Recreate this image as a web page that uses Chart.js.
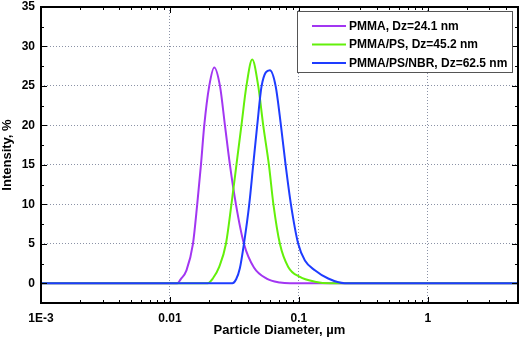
<!DOCTYPE html>
<html>
<head>
<meta charset="utf-8">
<script src="https://cdn.jsdelivr.net/npm/chart.js@4/dist/chart.umd.min.js"></script>
<style>
  html, body { margin: 0; padding: 0; background: #fff; }
  #wrap { width: 521px; height: 338px; position: relative; }
</style>
</head>
<body>
<div id="wrap"><canvas id="c"></canvas></div>
<script>
// Curvas de distribuição de tamanho (leitura aproximada do gráfico original)
const seriesLabels = ["PMMA, Dz=24.1 nm", "PMMA/PS, Dz=45.2 nm", "PMMA/PS/NBR, Dz=62.5 nm"]
const seriesColors = ["#a236f2", "#63f00a", "#1e3cff"]

const pmmaX = [0.001, 0.0114, 0.0121, 0.0134, 0.01508, 0.01627, 0.01739, 0.01845, 0.02017, 0.02205, 0.02442, 0.0267, 0.02918, 0.03248, 0.03747, 0.04479, 0.05618, 0.07122, 0.08516, 5]
const pmmaY = [0, 0, 0.5, 1.6, 5, 10, 15, 20, 25, 27.35, 25, 20, 15, 10, 5, 2.0, 0.6, 0.1, 0, 0]

const psX = [0.001, 0.0196, 0.0215, 0.0241, 0.02718, 0.02997, 0.03277, 0.03583, 0.03917, 0.04345, 0.04836, 0.05288, 0.05853, 0.06343, 0.07121, 0.08263, 0.1018, 0.133, 0.1739, 5]
const psY = [0, 0, 0.6, 2.07, 5, 10, 15, 20, 25, 28.35, 25, 20, 15, 10, 5, 2.07, 0.8, 0.2, 0, 0]

const nbrX = [0.001, 0.0305, 0.0326, 0.0348, 0.03747, 0.04119, 0.04422, 0.0475, 0.0514, 0.05961, 0.06598, 0.07254, 0.07886, 0.0867, 0.09876, 0.1113, 0.133, 0.1687, 0.2273, 5]
const nbrY = [0, 0, 0.5, 1.86, 5, 10, 15, 20, 25, 27.0, 25, 20, 15, 10, 5, 2.9, 1.65, 0.6, 0, 0]

const xMajor = [0.001, 0.01, 0.1, 1]
const xLabels = { 0.001: "1E-3", 0.01: "0.01", 0.1: "0.1", 1: "1" }

const toPoints = (xs, ys) => xs.map((x, i) => ({ x, y: ys[i] }))

function xTicksList() {
  const out = []
  for (let e = -3; e <= 0; e++) {
    for (let m = 1; m <= 9; m++) {
      const v = +(m * Math.pow(10, e)).toPrecision(3)
      if (v <= 5) out.push(v)
    }
  }
  return out
}
const isXMajor = (v) => xMajor.some((m) => Math.abs(m - v) < 1e-9)

const FONT = "'Liberation Sans', Arial, sans-serif"
const GRID = "#8b92a6"

// marcas de escala para dentro + moldura
const frameTicks = {
  id: "frameTicks",
  afterDatasetsDraw(chart) {
    const { ctx, chartArea: a, scales } = chart
    ctx.save()
    ctx.strokeStyle = "#000"
    ctx.lineWidth = 1
    scales.x.ticks.forEach((t) => {
      const px = Math.round(scales.x.getPixelForValue(t.value)) + 0.5
      const len = isXMajor(t.value) ? 6 : 3
      ctx.beginPath()
      ctx.moveTo(px, a.bottom); ctx.lineTo(px, a.bottom - len)
      ctx.moveTo(px, a.top); ctx.lineTo(px, a.top + len)
      ctx.stroke()
    })
    scales.y.ticks.forEach((t) => {
      const py = Math.round(scales.y.getPixelForValue(t.value)) + 0.5
      const len = t.value % 5 === 0 ? 6 : 3
      ctx.beginPath()
      ctx.moveTo(a.left, py); ctx.lineTo(a.left + len, py)
      ctx.moveTo(a.right, py); ctx.lineTo(a.right - len, py)
      ctx.stroke()
    })
    ctx.lineWidth = 2
    ctx.strokeRect(a.left, a.top, a.right - a.left, a.bottom - a.top)
    ctx.restore()
  }
}

// legenda dentro da área do gráfico
const boxLegend = {
  id: "boxLegend",
  afterDraw(chart) {
    const { ctx } = chart
    const x0 = 297.5, y0 = 11.5, w = 215, h = 61
    ctx.save()
    ctx.fillStyle = "#fff"
    ctx.fillRect(x0, y0, w, h)
    ctx.strokeStyle = "#555"
    ctx.lineWidth = 1
    ctx.strokeRect(x0, y0, w, h)
    ctx.font = "bold 12px " + FONT
    ctx.textBaseline = "middle"
    chart.data.datasets.forEach((ds, i) => {
      const y = 26 + i * 18.5
      ctx.strokeStyle = ds.borderColor
      ctx.lineWidth = 2
      ctx.beginPath()
      ctx.moveTo(312, y); ctx.lineTo(346, y)
      ctx.stroke()
      ctx.fillStyle = "#000"
      ctx.fillText(ds.label, 349, y + 0.5)
    })
    ctx.restore()
  }
}

new Chart(document.getElementById("c"), {
  type: "line",
  data: {
    datasets: [
      { label: seriesLabels[0], data: toPoints(pmmaX, pmmaY), borderColor: seriesColors[0], order: 3 },
      { label: seriesLabels[1], data: toPoints(psX, psY), borderColor: seriesColors[1], order: 2 },
      { label: seriesLabels[2], data: toPoints(nbrX, nbrY), borderColor: seriesColors[2], order: 1 }
    ].map((d) => ({ ...d, borderWidth: 2, pointRadius: 0, fill: false, cubicInterpolationMode: "monotone" }))
  },
  options: {
    responsive: true,
    maintainAspectRatio: false,
    animation: false,
    layout: { padding: { top: 7, right: 3, left: 0, bottom: 0 } },
    plugins: { legend: { display: false }, tooltip: { enabled: false } },
    scales: {
      x: {
        type: "logarithmic",
        min: 0.001,
        max: 5,
        afterBuildTicks: (scale) => { scale.ticks = xTicksList().map((v) => ({ value: v })) },
        afterFit: (scale) => {
          scale.height = 35
          scale.paddingLeft = 0
          scale.paddingRight = 0
        },
        border: { display: false, dash: [1, 2] },
        grid: {
          drawTicks: false,
          lineWidth: 1,
          color: (c) => (c.tick && isXMajor(c.tick.value) && c.tick.value !== 0.001 ? GRID : "rgba(0,0,0,0)")
        },
        ticks: {
          autoSkip: false,
          maxRotation: 0,
          padding: 8,
          color: "#000",
          font: { family: FONT, size: 12, weight: "bold" },
          callback: (v) => xLabels[v] ?? ""
        },
        title: {
          display: true,
          text: "Particle Diameter, µm",
          color: "#000",
          padding: { top: 1, bottom: 0 },
          font: { family: FONT, size: 13, weight: "bold" }
        }
      },
      y: {
        min: -2.5,
        max: 35,
        afterBuildTicks: (scale) => {
          const t = []
          for (let v = -2.5; v <= 35; v += 2.5) t.push({ value: v })
          scale.ticks = t
        },
        afterFit: (scale) => {
          scale.width = 41
          scale.paddingTop = 0
          scale.paddingBottom = 0
        },
        border: { display: false, dash: [1, 2] },
        grid: {
          drawTicks: false,
          lineWidth: 1,
          color: (c) => (c.tick && c.tick.value % 5 === 0 && c.tick.value > 0 && c.tick.value < 35 ? GRID : "rgba(0,0,0,0)")
        },
        ticks: {
          autoSkip: false,
          padding: 6,
          color: "#000",
          font: { family: FONT, size: 12, weight: "bold" },
          callback: (v) => (v % 5 === 0 && v >= 0 ? String(v) : "")
        },
        title: {
          display: true,
          text: "Intensity, %",
          color: "#000",
          padding: { top: 0, bottom: 2 },
          font: { family: FONT, size: 13, weight: "bold" }
        }
      }
    }
  },
  plugins: [frameTicks, boxLegend]
})
</script>
</body>
</html>
